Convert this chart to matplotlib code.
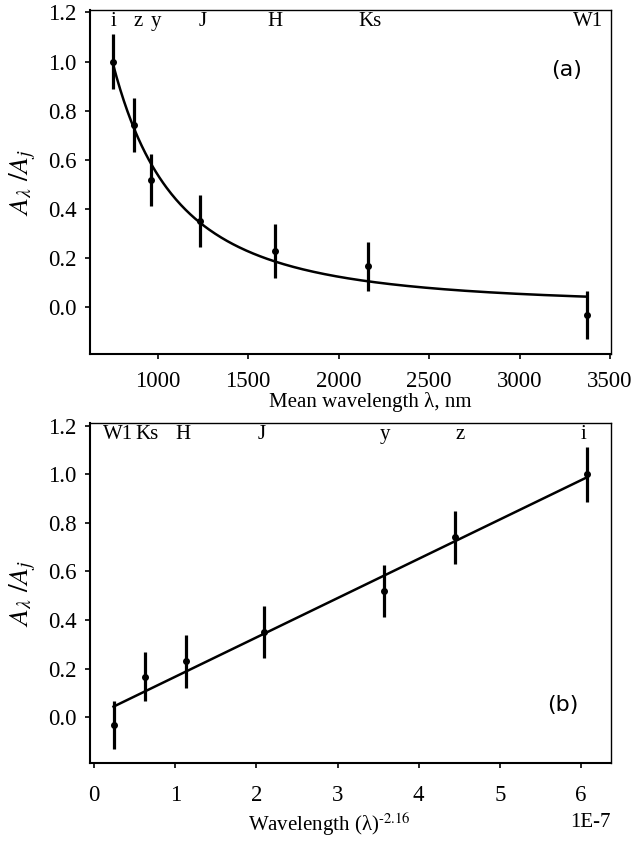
import numpy as np
import matplotlib
matplotlib.use("Agg")
import matplotlib.pyplot as plt
import matplotlib.transforms as mtransforms

plt.rcParams['font.family'] = ['Liberation Serif', 'DejaVu Serif']
plt.rcParams['mathtext.fontset'] = 'stix'

# данные: полосы, длины волн (нм), отношение поглощений и ошибки
bands = ['i', 'z', 'y', 'J', 'H', 'Ks', 'W1']
wavelength_nm = np.array([755, 872, 966, 1236, 1647, 2161, 3370])
ratio = np.array([1.0, 0.74, 0.518, 0.352, 0.23, 0.167, -0.033])
ratio_err = np.array([0.113, 0.11, 0.107, 0.107, 0.11, 0.10, 0.098])
power_index = -2.16

# сдвиги подписей полос (в пикселях), чтобы не налезали друг на друга
label_shift_a = [0, 4, 5, 2, 0, 2, 1]
label_shift_b = [-4, 5, 1, -2, -3, 2, 5]

x_pow = wavelength_nm ** power_index * 1e7
slope, intercept = np.polyfit(x_pow, ratio, 1)

fig = plt.figure(figsize=(6.41, 8.46), dpi=100)
ax1 = fig.add_axes([0.1404, 0.5816, 0.8128, 0.4066])
ax2 = fig.add_axes([0.1404, 0.0978, 0.8128, 0.4019])


def style_axes(ax, pad):
    for s in ['left', 'bottom']:
        ax.spines[s].set_linewidth(1.5)
    for s in ['top', 'right']:
        ax.spines[s].set_linewidth(1.0)
    ax.tick_params(axis='x', direction='out', length=3.5, width=1.2, pad=pad, labelsize=16.5, top=False)
    ax.tick_params(axis='y', direction='out', length=3.5, width=1.2, pad=6.0, labelsize=16.5, right=False)
    ax.set_ylim(-0.19, 1.21)
    ax.set_yticks([0.0, 0.2, 0.4, 0.6, 0.8, 1.0, 1.2])
    ax.set_yticklabels(['0.0', '0.2', '0.4', '0.6', '0.8', '1.0', '1.2'])
    ax.set_ylabel(r'$A_{\lambda}\ /A_j$', fontsize=20)
    ax.yaxis.set_label_coords(-0.10, 0.5)


# (a) зависимость от длины волны
lam_grid = np.linspace(wavelength_nm.min(), wavelength_nm.max(), 400)
ax1.plot(lam_grid, intercept + slope * lam_grid ** power_index * 1e7, color='black', lw=1.8)
ax1.errorbar(wavelength_nm, ratio, yerr=ratio_err, fmt='o', color='black',
             markersize=4, elinewidth=2.3, capsize=0)
ax1.set_xlim(627, 3505)
ax1.set_xticks([1000, 1500, 2000, 2500, 3000, 3500])
style_axes(ax1, 8.8)
ax1.text(0.537, -0.14, 'Mean wavelength λ, nm', transform=ax1.transAxes,
         ha='center', va='center', fontsize=15)
ax1.text(0.915, 0.826, '(a)', transform=ax1.transAxes, ha='center', va='center',
         fontsize=16, family='DejaVu Sans')
for b, lam, dx in zip(bands, wavelength_nm, label_shift_a):
    tr = ax1.transData + mtransforms.ScaledTranslation(dx / 100, 0, fig.dpi_scale_trans)
    ax1.text(lam, 1.163, b, transform=tr, ha='center', va='center', fontsize=15)

# (b) зависимость от λ^-2.16
ax2.plot([x_pow.min(), x_pow.max()],
         [intercept + slope * x_pow.min(), intercept + slope * x_pow.max()],
         color='black', lw=1.8)
ax2.errorbar(x_pow, ratio, yerr=ratio_err, fmt='o', color='black',
             markersize=4, elinewidth=2.3, capsize=0)
ax2.set_xlim(-0.05, 6.37)
ax2.set_xticks([0, 1, 2, 3, 4, 5, 6])
style_axes(ax2, 12.5)
ax2.text(0.46, -0.18, r'Wavelength (λ)$^{\text{-2.16}}$', transform=ax2.transAxes,
         ha='center', va='center', fontsize=15)
ax2.text(0.96, -0.175, '1E-7', transform=ax2.transAxes, ha='center', va='center', fontsize=15)
ax2.text(0.908, 0.171, '(b)', transform=ax2.transAxes, ha='center', va='center',
         fontsize=16, family='DejaVu Sans')
for b, xv, dx in zip(bands, x_pow, label_shift_b):
    tr = ax2.transData + mtransforms.ScaledTranslation(dx / 100, 0, fig.dpi_scale_trans)
    ax2.text(xv, 1.163, b, transform=tr, ha='center', va='center', fontsize=15)

fig.savefig('out.png', dpi=100)
